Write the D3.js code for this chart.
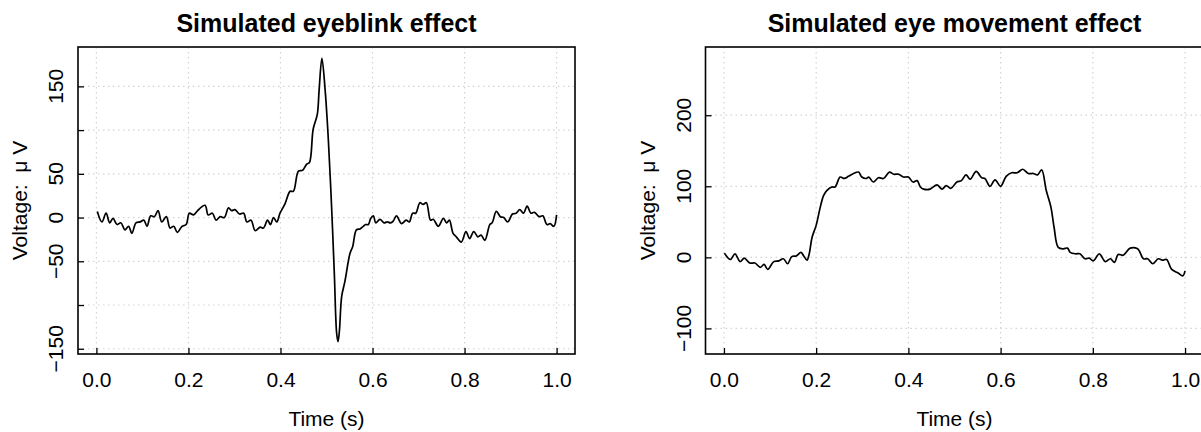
<!DOCTYPE html>
<html>
<head>
<meta charset="utf-8">
<script src="https://cdn.jsdelivr.net/npm/d3@7"></script>
<style>
  body { margin: 0; background: #fff; }
  svg { font-family: "Liberation Sans", Arial, Helvetica, sans-serif; }
</style>
</head>
<body>
<svg id="chart" width="1201" height="432"></svg>
<script>
// tick values shared by both panels
const timeTicks = [0, 0.2, 0.4, 0.6, 0.8, 1.0];

// eyeblink panel
const blinkTitle = "Simulated eyeblink effect";
const blinkTime = [0.002,0.012,0.021,0.029,0.036,0.045,0.053,0.062,0.070,0.077,0.086,0.095,0.103,0.110,0.118,0.126,0.134,0.142,0.152,0.160,
  0.168,0.176,0.186,0.195,0.202,0.211,0.220,0.236,0.243,0.252,0.260,0.269,0.278,0.287,0.294,0.301,0.311,0.320,0.327,0.336,
  0.345,0.356,0.363,0.372,0.378,0.385,0.392,0.399,0.410,0.421,0.428,0.439,0.448,0.457,0.463,0.471,0.480,0.484,0.490,0.497,
  0.504,0.511,0.517,0.522,0.525,0.528,0.533,0.540,0.551,0.557,0.565,0.573,0.580,0.585,0.591,0.596,0.602,0.607,0.616,0.625,
  0.632,0.639,0.645,0.652,0.663,0.673,0.680,0.687,0.694,0.703,0.710,0.717,0.726,0.732,0.743,0.754,0.761,0.767,0.775,0.782,
  0.793,0.803,0.811,0.820,0.829,0.836,0.844,0.855,0.860,0.869,0.878,0.885,0.894,0.904,0.912,0.920,0.928,0.936,0.944,0.952,
  0.962,0.970,0.979,0.986,0.994,1.000];
const blinkVolt = [7,-5,5,-6,-1,-8,-6,-14,-10,-18,-6,-5,-3,-10,2,1,8,-5,1,-12,
  -10,-17,-10,-8,5,3,8,14,3,5,-3,1,0,11,8,9,4,5,-5,-3,
  -15,-11,-12,-3,-8,0,-5,5,16,30,30,53,54,61,63,101,118,146,182,146,
  89,13,-64,-132,-142,-130,-90,-73,-41,-33,-14,-13,-10,-8,-8,-1,2,-6,-2,-6,
  -5,-6,-4,2,-7,-3,-5,5,5,17,15,17,-3,-2,-10,-1,-6,-3,-18,-22,
  -28,-16,-24,-16,-22,-20,-26,-8,-6,7,1,0,-5,4,5,9,5,13,5,6,
  1,2,-8,-7,-10,3];
const blinkYTicks = [-150, -100, -50, 0, 50, 100, 150];
const blinkYLabels = [-150, -50, 0, 50, 150];
const blinkYlim = [-143, 182];

// eye movement panel
const moveTitle = "Simulated eye movement effect";
const moveTime = [0.001,0.014,0.024,0.035,0.044,0.056,0.067,0.079,0.087,0.095,0.108,0.119,0.129,0.138,0.147,0.157,0.167,0.173,0.180,0.185,
  0.191,0.200,0.209,0.216,0.223,0.234,0.241,0.252,0.261,0.270,0.281,0.292,0.299,0.309,0.314,0.324,0.335,0.346,0.359,0.368,
  0.379,0.389,0.400,0.410,0.419,0.426,0.433,0.447,0.462,0.473,0.482,0.492,0.505,0.515,0.525,0.534,0.547,0.559,0.566,0.577,
  0.588,0.600,0.612,0.624,0.636,0.648,0.660,0.671,0.680,0.689,0.699,0.709,0.716,0.725,0.736,0.745,0.751,0.763,0.772,0.783,
  0.792,0.801,0.814,0.827,0.838,0.847,0.855,0.866,0.881,0.897,0.910,0.919,0.930,0.942,0.951,0.960,0.971,0.985,0.995,1.000];
const moveVolt = [6,-3,5,-6,-1,-8,-8,-14,-10,-17,-6,-5,-2,-9,1,2,7,2,-4,5,
  28,45,71,87,94,99,99,113,111,114,118,120,113,111,113,106,112,111,120,117,
  117,113,113,106,108,99,96,96,102,96,101,97,106,108,116,110,121,112,111,100,
  109,100,114,119,119,124,118,118,116,123,94,71,42,14,12,13,7,5,5,-2,
  -1,-5,5,-6,-2,-7,4,3,13,12,-2,-2,-9,-2,-4,-3,-17,-22,-26,-19];
const moveYTicks = [-100, 0, 100, 200];
const moveYLabels = [-100, 0, 100, 200];
const moveYlim = [-120, 280];

const svg = d3.select("#chart");
const plotTop = 47, plotBottom = 354;
const fmtY = d3.format("d");

const panels = [
  { title: blinkTitle, time: blinkTime, volt: blinkVolt, yTicks: blinkYTicks, yLabels: blinkYLabels, ylim: blinkYlim, left: 78, right: 575 },
  { title: moveTitle, time: moveTime, volt: moveVolt, yTicks: moveYTicks, yLabels: moveYLabels, ylim: moveYlim, left: 705.5, right: 1203.5 }
];

panels.forEach(p => {
  const g = svg.append("g");
  const x = d3.scaleLinear().domain([-0.04, 1.04]).range([p.left, p.right]);
  const ext = (p.ylim[1] - p.ylim[0]) * 0.04;
  const y = d3.scaleLinear().domain([p.ylim[0] - ext, p.ylim[1] + ext]).range([plotBottom, plotTop]);
  const midX = (p.left + p.right) / 2;
  const midY = (plotTop + plotBottom) / 2;

  // dotted grid
  g.selectAll(".gx").data(timeTicks).join("line")
    .attr("x1", d => x(d)).attr("x2", d => x(d))
    .attr("y1", plotTop).attr("y2", plotBottom)
    .attr("stroke", "#d3d3d3").attr("stroke-width", 1.2).attr("stroke-dasharray", "1.5,3.5");
  g.selectAll(".gy").data(p.yTicks).join("line")
    .attr("x1", p.left).attr("x2", p.right)
    .attr("y1", d => y(d)).attr("y2", d => y(d))
    .attr("stroke", "#d3d3d3").attr("stroke-width", 1.2).attr("stroke-dasharray", "1.5,3.5");

  // the signal
  const pts = p.time.map((t, i) => [t, p.volt[i]]);
  g.append("path")
    .datum(pts)
    .attr("fill", "none")
    .attr("stroke", "#000")
    .attr("stroke-width", 1.7)
    .attr("stroke-linejoin", "round")
    .attr("d", d3.line().x(d => x(d[0])).y(d => y(d[1])).curve(d3.curveCatmullRom.alpha(0.5)));

  // axes with inward ticks
  const xAxis = g.append("g")
    .attr("transform", `translate(0,${plotBottom})`)
    .call(d3.axisBottom(x).tickValues(timeTicks).tickSize(-6).tickFormat(d3.format(".1f")));
  xAxis.select(".domain").remove();
  xAxis.selectAll("line").attr("stroke", "#000").attr("stroke-width", 1.3);
  xAxis.selectAll("text").attr("font-size", 21).attr("fill", "#000").attr("dy", null).attr("y", 32.7);

  const yAxis = g.append("g")
    .attr("transform", `translate(${p.left},0)`)
    .call(d3.axisLeft(y).tickValues(p.yTicks).tickSize(-6).tickFormat(""));
  yAxis.select(".domain").remove();
  yAxis.selectAll("line").attr("stroke", "#000").attr("stroke-width", 1.3);

  g.selectAll(".ylab").data(p.yLabels).join("text")
    .attr("transform", d => `translate(${p.left - 15},${y(d)}) rotate(-90)`)
    .attr("text-anchor", "middle")
    .attr("font-size", 21)
    .text(d => fmtY(d));

  // frame
  g.append("rect")
    .attr("x", p.left).attr("y", plotTop)
    .attr("width", p.right - p.left).attr("height", plotBottom - plotTop)
    .attr("fill", "none").attr("stroke", "#000").attr("stroke-width", 1.6);

  // titles
  g.append("text")
    .attr("x", midX).attr("y", 31.5)
    .attr("text-anchor", "middle")
    .attr("font-size", 25).attr("font-weight", "bold")
    .text(p.title);

  g.append("text")
    .attr("x", midX).attr("y", 426)
    .attr("text-anchor", "middle")
    .attr("font-size", 21)
    .text("Time (s)");

  g.append("text")
    .attr("transform", `translate(${p.left - 51},${midY}) rotate(-90)`)
    .attr("text-anchor", "middle")
    .attr("font-size", 21)
    .attr("xml:space", "preserve")
    .style("white-space", "pre")
    .text("Voltage:  μ V");
});
</script>
</body>
</html>
